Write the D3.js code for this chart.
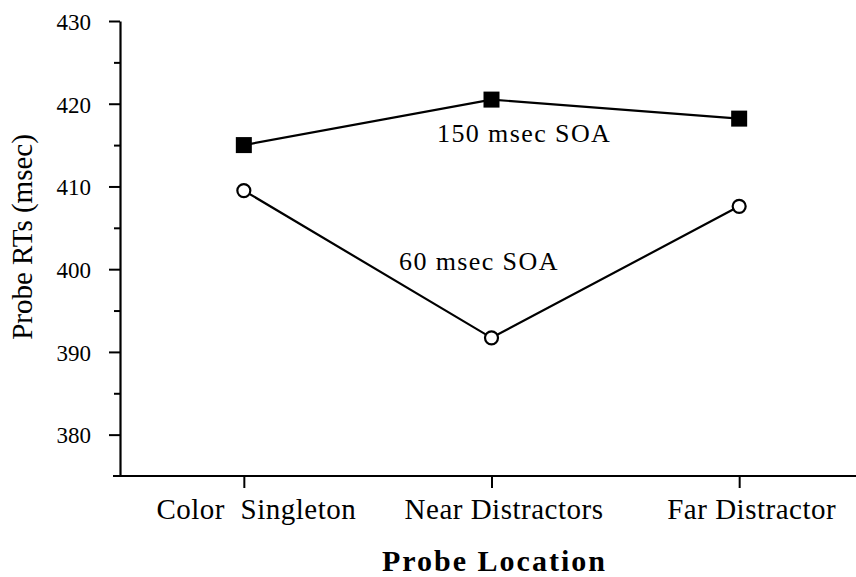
<!DOCTYPE html>
<html>
<head>
<meta charset="utf-8">
<script src="https://cdn.jsdelivr.net/npm/d3@7"></script>
<style>
  html, body { margin: 0; padding: 0; background: #fff; }
  svg { display: block; }
  text { font-family: "Liberation Serif", "Times New Roman", serif; fill: #000; }
</style>
</head>
<body>
<svg id="chart" width="856" height="577"></svg>
<script>
const categories = ["Color  Singleton", "Near Distractors", "Far Distractor"];
const soa150 = [415.0, 420.5, 418.2];
const soa60 = [409.5, 391.7, 407.6];
const majorTicks = [380, 390, 400, 410, 420, 430];
const minorTicks = [385, 395, 405, 415, 425];
const yDomain = [375, 430];
const seriesLabels = ["150 msec SOA", "60 msec SOA"];
const yTitle = "Probe RTs (msec)";
const xTitle = "Probe Location";

const svg = d3.select("#chart");
const W = 856, H = 577;
const x0 = 120, yBottom = 476, yTop = 21;

const x = d3.scalePoint().domain(categories).range([x0, 863]).padding(0.5);
const y = d3.scaleLinear().domain(yDomain).range([yBottom, yTop]);

// Y axis minor ticks
const gMinor = svg.append("g").attr("transform", `translate(${x0},0)`)
  .call(d3.axisLeft(y).tickValues(minorTicks).tickSize(6).tickFormat(""));
gMinor.select(".domain").remove();
gMinor.selectAll(".tick line").attr("stroke", "#000").attr("stroke-width", 2);

// Y axis major
const gY = svg.append("g").attr("transform", `translate(${x0},0)`)
  .call(d3.axisLeft(y).tickValues(majorTicks).tickSize(11).tickSizeOuter(0).tickPadding(18).tickFormat(d3.format("d")));
gY.select(".domain").attr("stroke", "#000").attr("stroke-width", 2.2);
gY.selectAll(".tick line").attr("stroke", "#000").attr("stroke-width", 2);
gY.selectAll(".tick text")
  .style("font-family", '"Liberation Serif", serif')
  .style("font-size", "23px").attr("dy", "0.36em");

// X axis
svg.append("line").attr("x1", 113).attr("x2", W).attr("y1", yBottom).attr("y2", yBottom)
  .attr("stroke", "#000").attr("stroke-width", 2.2);
const gX = svg.append("g").attr("transform", `translate(0,${yBottom})`)
  .call(d3.axisBottom(x).tickSize(12).tickSizeOuter(0).tickPadding(20));
gX.select(".domain").remove();
gX.selectAll(".tick line").attr("stroke", "#000").attr("stroke-width", 2);
gX.selectAll(".tick text")
  .style("font-family", '"Liberation Serif", serif')
  .style("font-size", "29px")
  .style("letter-spacing", "0.5px")
  .style("white-space", "pre")
  .attr("dx", 12).attr("dy", 0).attr("y", 43);

// Lines
const line = d3.line().x((d, i) => x(categories[i])).y(d => y(d));
svg.append("path").datum(soa150).attr("d", line)
  .attr("fill", "none").attr("stroke", "#000").attr("stroke-width", 2.2);
svg.append("path").datum(soa60).attr("d", line)
  .attr("fill", "none").attr("stroke", "#000").attr("stroke-width", 2.2);

// Markers
svg.selectAll("rect.m150").data(soa150).enter().append("rect")
  .attr("class", "m150")
  .attr("x", (d, i) => x(categories[i]) - 8).attr("y", d => y(d) - 8)
  .attr("width", 16).attr("height", 16).attr("fill", "#000");
svg.selectAll("circle.m60").data(soa60).enter().append("circle")
  .attr("class", "m60")
  .attr("cx", (d, i) => x(categories[i])).attr("cy", d => y(d))
  .attr("r", 6.5).attr("fill", "#fff").attr("stroke", "#000").attr("stroke-width", 2.2);

// Series annotations
svg.append("text").attr("x", 437).attr("y", 142)
  .style("font-size", "26px").style("letter-spacing", "1.4px").text(seriesLabels[0]);
svg.append("text").attr("x", 399).attr("y", 270)
  .style("font-size", "26px").style("letter-spacing", "1.4px").text(seriesLabels[1]);

// Axis titles
svg.append("text")
  .attr("transform", "translate(32,237) rotate(-90)")
  .attr("text-anchor", "middle")
  .style("font-size", "29px").text(yTitle);
svg.append("text").attr("x", 382).attr("y", 571)
  .style("font-size", "30px").style("font-weight", "bold").style("letter-spacing", "2px")
  .text(xTitle);
</script>
</body>
</html>
